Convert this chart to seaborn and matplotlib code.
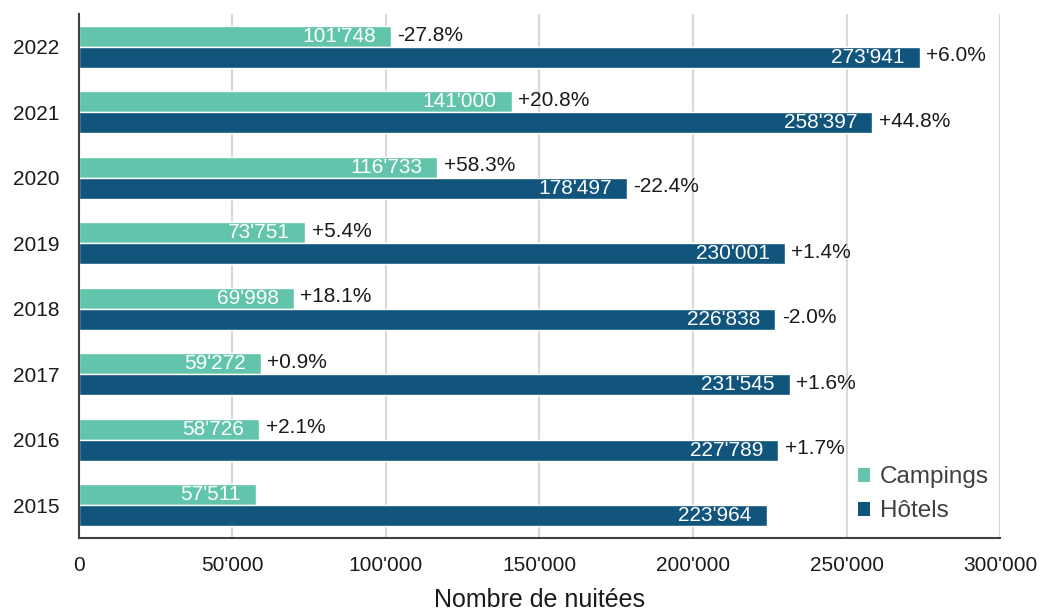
import matplotlib
matplotlib.use("Agg")
import matplotlib.pyplot as plt
import matplotlib.ticker as mticker
from matplotlib.patches import Patch
import seaborn as sns
import pandas as pd

years = ["2022", "2021", "2020", "2019", "2018", "2017", "2016", "2015"]
campings = [101748, 141000, 116733, 73751, 69998, 59272, 58726, 57511]
hotels = [273941, 258397, 178497, 230001, 226838, 231545, 227789, 223964]
pct_campings = ["-27.8%", "+20.8%", "+58.3%", "+5.4%", "+18.1%", "+0.9%", "+2.1%", ""]
pct_hotels = ["+6.0%", "+44.8%", "-22.4%", "+1.4%", "-2.0%", "+1.6%", "+1.7%", ""]
series = ["Campings", "Hôtels"]
colors = ["#62C4AB", "#11557C"]
xticks = [0, 50000, 100000, 150000, 200000, 250000, 300000]

sns.set_theme(style="white")
plt.rcParams["font.family"] = ["Liberation Sans", "DejaVu Sans"]

df = pd.DataFrame({
    "Année": years * 2,
    "Type": [series[0]] * len(years) + [series[1]] * len(years),
    "Nuitées": campings + hotels,
})

fig = plt.figure(figsize=(10.42, 6.15), dpi=100)
ax = fig.add_axes([0.0758, 0.1252, 0.9597 - 0.0758, 0.977 - 0.1252])
sns.barplot(data=df, y="Année", x="Nuitées", hue="Type", order=years,
            hue_order=series, palette=colors, saturation=1, orient="h", width=0.64,
            edgecolor="white", linewidth=1, ax=ax, legend=False, errorbar=None)

ax.set_xlim(0, 300000)
ax.set_ylim(7.5, -0.5)
ax.set_xticks(xticks)
ax.xaxis.set_major_formatter(mticker.FuncFormatter(
    lambda v, p: f"{int(v):,}".replace(",", "'")))
ax.tick_params(axis="both", length=0, labelsize=15, colors="#1a1a1a")
ax.tick_params(axis="y", pad=14)
ax.tick_params(axis="x", pad=13)
ax.grid(axis="x", color="#d9d9d9", linewidth=1.5)
ax.set_axisbelow(True)
for s in ["top", "right"]:
    ax.spines[s].set_visible(False)
for s in ["left", "bottom"]:
    ax.spines[s].set_color("#404040")
    ax.spines[s].set_linewidth(1.5)
ax.set_ylabel("")
ax.set_xlabel("Nombre de nuitées", fontsize=18, color="#1a1a1a", labelpad=9)

pct_lists = [pct_campings, pct_hotels]
for ci, cont in enumerate(ax.containers):
    for bi, bar in enumerate(cont):
        w = bar.get_width()
        yc = bar.get_y() + bar.get_height() / 2
        ax.annotate(f"{int(w):,}".replace(",", "'"), (w, yc), xytext=(-11, 0),
                    textcoords="offset points", ha="right", va="center",
                    color="white", fontsize=15)
        lab = pct_lists[ci][bi]
        if lab:
            ax.annotate(lab, (w, yc), xytext=(4.5, 1), textcoords="offset points",
                        ha="left", va="center", color="#1a1a1a", fontsize=15)

handles = [Patch(facecolor=c, edgecolor="none", label=l) for c, l in zip(colors, series)]
leg = ax.legend(handles=handles, loc="lower right", bbox_to_anchor=(1.012, -0.012),
                frameon=False, fontsize=17.5, handlelength=0.5, handleheight=0.5,
                handletextpad=0.4, labelspacing=0.5)
for t in leg.get_texts():
    t.set_color("#404040")

fig.savefig("out.png", dpi=100)
